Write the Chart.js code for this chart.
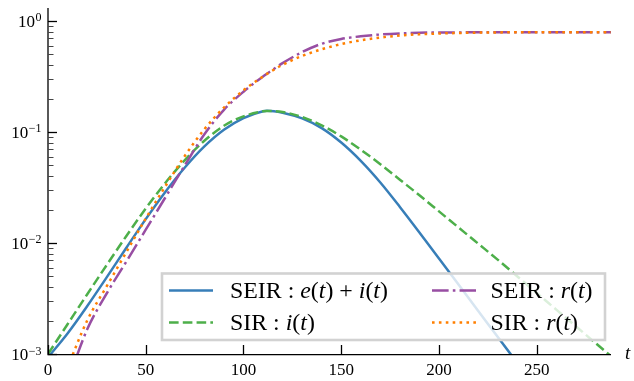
<!DOCTYPE html>
<html><head><meta charset="utf-8">
<script src="https://cdn.jsdelivr.net/npm/chart.js@4.4.1/dist/chart.umd.min.js"></script>
<style>html,body{margin:0;padding:0;background:#fff;overflow:hidden}canvas{display:block}</style>
</head><body>
<canvas id="c" width="634" height="381"></canvas>
<script>
// ---- data ----
const t = [0,10,20,30,40,50,60,70,80,90,100,110,112,120,130,140,150,160,170,180,190,200,210,220,230,240,250,260,270,280,290];
const seirEI = [0.000933,0.001531,0.002692,0.004898,0.009016,0.01641,0.02884,0.04786,0.07413,0.10471,0.13335,0.15382,0.15560,0.14928,0.13243,0.10839,0.08035,0.05495,0.03508,0.02113,0.012445,0.007244,0.004217,0.002455,0.001429,0.000832,null,null,null,null,null];
const sirI = [0.001,0.001854,0.003436,0.006324,0.011508,0.020464,0.034754,0.055719,0.083368,0.11376,0.13836,0.15346,0.15488,0.15136,0.13646,0.11482,0.091201,0.069183,0.051286,0.037154,0.026915,0.019275,0.013804,0.009886,0.007080,0.005012,0.003548,0.002512,0.001778,0.001259,0.000891];
const seirR = [null,0.000562,0.00166,0.003508,0.006761,0.013183,0.025704,0.050119,0.095499,0.15849,0.23067,0.31623,0.33497,0.41687,0.52481,0.62373,0.68865,0.72778,0.75509,0.77268,0.78343,0.78705,0.78886,0.79068,0.79068,0.79068,0.79068,0.79068,0.79068,0.79068,0.79068];
const sirR = [null,0.000759,0.001995,0.004074,0.008222,0.016596,0.032359,0.060954,0.10593,0.16596,0.23714,0.31623,0.33343,0.40272,0.48417,0.55590,0.61944,0.66988,0.70958,0.73961,0.75858,0.77090,0.77983,0.78524,0.78886,0.79068,0.79068,0.79068,0.79068,0.79068,0.79068];

const seriesNames = ['SEIR : e(t) + i(t)','SIR : i(t)','SEIR : r(t)','SIR : r(t)'];
const xTicks = [0,50,100,150,200,250];
const xTickLabels = ['0','50','100','150','200','250'];
const yMajorTicks = [1,0.1,0.01,0.001];
const yTickBase = ['10','10','10','10'];
const yTickExp = ['0','\u22121','\u22122','\u22123'];
const xAxisLabel = 't';

// ---- styles ----
const LW = 2.5, K = 2.6;
const styles = [
  {color:'#377eb8', dash:[], order:4},
  {color:'#4daf4a', dash:[3.7*K,1.6*K], order:3},
  {color:'#984ea3', dash:[6.4*K,1.6*K,1*K,1.6*K], order:2},
  {color:'#ff7f00', dash:[1*K,1.65*K], order:1}
];
const legendRuns = [
  [['SEIR : ',0],['e',1],['(',0],['t',1],[') + ',0],['i',1],['(',0],['t',1],[')',0]],
  [['SIR : ',0],['i',1],['(',0],['t',1],[')',0]],
  [['SEIR : ',0],['r',1],['(',0],['t',1],[')',0]],
  [['SIR : ',0],['r',1],['(',0],['t',1],[')',0]]
];
const serif = '"Liberation Serif", "Times New Roman", serif';

function pts(arr){ return t.map((x,i)=>({x:x,y:arr[i]})).filter(p=>p.y!==null); }
const seriesData = [seirEI, sirI, seirR, sirR];

function runsWidth(ctx, runs, size){
  let w=0; for(const [s,it] of runs){ ctx.font=(it?'italic ':'')+size+'px '+serif; w+=ctx.measureText(s).width; } return w;
}
function drawRuns(ctx, runs, x, y, size){
  for(const [s,it] of runs){ ctx.font=(it?'italic ':'')+size+'px '+serif; ctx.fillText(s,x,y); x+=ctx.measureText(s).width; }
}

const axisPlugin = {
  id:'axisPlugin',
  afterDatasetsDraw(chart){
    const ctx = chart.ctx, xs = chart.scales.x, ys = chart.scales.y, ca = chart.chartArea;
    ctx.save();
    ctx.strokeStyle='#000'; ctx.lineWidth=1.3; ctx.lineCap='butt';
    ctx.beginPath(); ctx.moveTo(ca.left, ca.top); ctx.lineTo(ca.left, ca.bottom+0.65); ctx.lineTo(ca.right, ca.bottom+0.65); ctx.stroke();
    for(const tk of ys.ticks){
      const v = tk.value; if(v<ys.min-1e-12||v>ys.max) continue;
      const e = Math.log10(v), m = v/Math.pow(10,Math.floor(e+1e-9));
      if(Math.abs(m-Math.round(m))>1e-6) continue;
      const y = Math.round(ys.getPixelForValue(v))+0.5;
      const major = Math.abs(e-Math.round(e))<1e-6;
      ctx.strokeStyle = major?'#000':'#444'; ctx.lineWidth = major?1.3:1;
      ctx.beginPath(); ctx.moveTo(ca.left, y); ctx.lineTo(ca.left+(major?9:5.5), y); ctx.stroke();
    }
    ctx.strokeStyle='#000'; ctx.lineWidth=1.3;
    for(const v of xTicks){
      const x = Math.round(xs.getPixelForValue(v))+0.5;
      ctx.beginPath(); ctx.moveTo(x, ca.bottom); ctx.lineTo(x, ca.bottom-9); ctx.stroke();
    }
    ctx.fillStyle='#000'; ctx.textAlign='center'; ctx.textBaseline='alphabetic';
    ctx.font='17px '+serif;
    xTicks.forEach((v,i)=>{ ctx.fillText(xTickLabels[i], xs.getPixelForValue(v), 375); });
    ctx.textAlign='left';
    yMajorTicks.forEach((v,i)=>{
      const y = ys.getPixelForValue(v);
      ctx.font='17px '+serif; const wb = ctx.measureText(yTickBase[i]).width;
      ctx.font='12px '+serif; const we = ctx.measureText(yTickExp[i]).width;
      const x0 = 41 - wb - we;
      ctx.font='17px '+serif; ctx.fillText(yTickBase[i], x0, y+6);
      ctx.font='12px '+serif; ctx.fillText(yTickExp[i], x0+wb+0.5, y+0.5);
    });
    ctx.font='italic 19px '+serif; ctx.fillText(xAxisLabel, 625, 359);
    ctx.restore();
  },
  afterDraw(chart){
    const ctx = chart.ctx; ctx.save();
    ctx.fillStyle='rgba(255,255,255,0.8)';
    ctx.fillRect(162,273.5,443,66.5);
    ctx.strokeStyle='#d2d2d2'; ctx.lineWidth=2.6;
    ctx.strokeRect(162,273.5,443,66.5);
    const size = 21*158/runsWidth(ctx, legendRuns[0], 21);
    const pos = [[169,230,290.5],[169,230,322.5],[432,490.5,290.5],[432,490.5,322.5]];
    legendRuns.forEach((runs,i)=>{
      const [hx,tx,cy]=pos[i]; const st = styles[i];
      ctx.strokeStyle=st.color; ctx.lineWidth=LW; ctx.lineCap='butt'; ctx.setLineDash(st.dash);
      ctx.beginPath(); ctx.moveTo(hx,cy); ctx.lineTo(hx+44,cy); ctx.stroke();
      ctx.setLineDash([]);
      ctx.fillStyle='#000'; ctx.textAlign='left'; ctx.textBaseline='alphabetic';
      drawRuns(ctx, runs, tx, cy+7, size);
    });
    ctx.restore();
  }
};

new Chart(document.getElementById('c'), {
  type:'line',
  data:{ datasets: seriesData.map((arr,i)=>({
    label: seriesNames[i], data: pts(arr),
    borderColor: styles[i].color, backgroundColor: styles[i].color,
    borderDash: styles[i].dash, borderWidth: LW, borderCapStyle:'butt',
    cubicInterpolationMode:'monotone', pointRadius:0, fill:false, order: styles[i].order
  }))},
  options:{
    responsive:false, animation:false, devicePixelRatio:1,
    layout:{padding:{top:8,right:23,bottom:0,left:0}},
    plugins:{legend:{display:false}, tooltip:{enabled:false}},
    scales:{
      x:{type:'linear', min:0, max:288, grid:{display:false}, border:{display:false}, ticks:{display:false}, afterFit(s){s.height=27;}},
      y:{type:'logarithmic', min:0.001, max:1.309, grid:{display:false}, border:{display:false}, ticks:{display:false, autoSkip:false}, afterFit(s){s.width=48;}}
    }
  },
  plugins:[axisPlugin]
});
</script>
</body></html>
